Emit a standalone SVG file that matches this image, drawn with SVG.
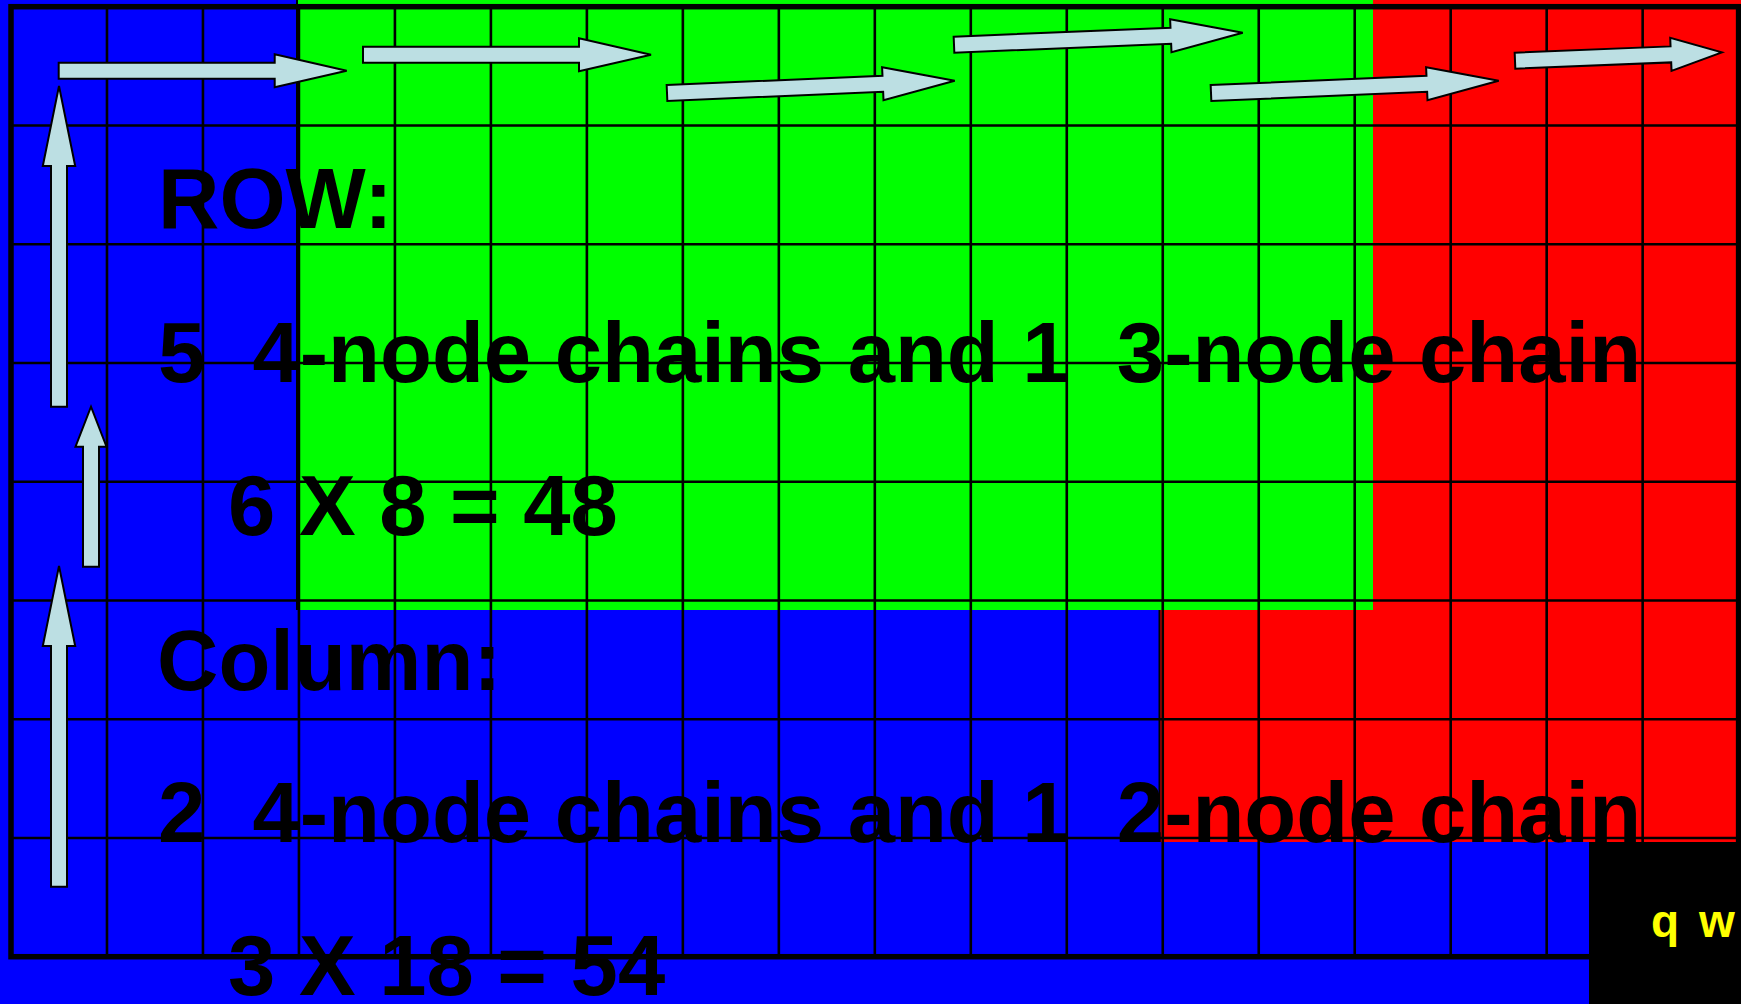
<svg xmlns="http://www.w3.org/2000/svg" width="1741" height="1004" viewBox="0 0 1741 1004">
<style>
.grid{fill:none;stroke:#000;stroke-width:2.6}
.border{fill:none;stroke:#000;stroke-width:5.5}
.arr{fill:#BCDFE3;stroke:#000;stroke-width:2;stroke-linejoin:miter}
.t{font-family:"Liberation Sans",Arial,sans-serif;font-weight:bold;font-size:85px;fill:#000;white-space:pre}
.y{font-family:"Liberation Sans",Arial,sans-serif;font-weight:bold;font-size:46px;fill:#FFFF00;letter-spacing:3.5px}
</style>
<g id="background">
<rect x="0" y="0" width="1741" height="1004" fill="#0000FF"/>
<rect x="298" y="0" width="1075" height="610" fill="#00FF00"/>
<rect x="1373" y="0" width="368" height="842" fill="#FF0000"/>
<rect x="1159" y="610" width="214" height="232" fill="#FF0000"/>
<rect x="1589" y="842" width="152" height="162" fill="#000000"/>
<line x1="297" y1="0" x2="297" y2="610" stroke="#000" stroke-width="2"/>
<line x1="1159.5" y1="610" x2="1159.5" y2="842" stroke="#000" stroke-width="2"/>
</g>
<g id="grid">
<path class="grid" d="M106.98 6.7V956.7M202.96 6.7V956.7M298.94 6.7V956.7M394.92 6.7V956.7M490.9 6.7V956.7M586.88 6.7V956.7M682.86 6.7V956.7M778.84 6.7V956.7M874.82 6.7V956.7M970.8 6.7V956.7M1066.78 6.7V956.7M1162.76 6.7V956.7M1258.74 6.7V956.7M1354.72 6.7V956.7M1450.7 6.7V956.7M1546.68 6.7V956.7M1642.66 6.7V956.7"/>
<path class="grid" d="M11 125.45H1738.6M11 244.2H1738.6M11 362.95H1738.6M11 481.7H1738.6M11 600.45H1738.6M11 719.2H1738.6M11 837.95H1738.6"/>
<rect class="border" x="11" y="6.7" width="1727.6" height="950"/>
</g>
<g id="connectors">
<polygon class="arr" transform="translate(58.7 70.7)" points="0,-8 216,-8 216,-16.5 288,0 216,16.5 216,8 0,8"/>
<polygon class="arr" transform="translate(363 54.7)" points="0,-8 216,-8 216,-16.5 288,0 216,16.5 216,8 0,8"/>
<polygon class="arr" transform="translate(667 93) rotate(-2.44)" points="0,-8 216,-8 216,-16.5 288,0 216,16.5 216,8 0,8"/>
<polygon class="arr" transform="translate(954 44.7) rotate(-2.38)" points="0,-8 217,-8 217,-16.5 289,0 217,16.5 217,8 0,8"/>
<polygon class="arr" transform="translate(1211 93) rotate(-2.44)" points="0,-8 216,-8 216,-16.5 288,0 216,16.5 216,8 0,8"/>
<polygon class="arr" transform="translate(1515 60.7) rotate(-2.32)" points="0,-8 156,-8 156,-16.5 207,0 156,16.5 156,8 0,8"/>
<polygon class="arr" transform="translate(59 406.7) rotate(-90)" points="0,-8 240.7,-8 240.7,-16.2 320.7,0 240.7,16.2 240.7,8 0,8"/>
<polygon class="arr" transform="translate(91 566.7) rotate(-90)" points="0,-8 120,-8 120,-15.5 160,0 120,15.5 120,8 0,8"/>
<polygon class="arr" transform="translate(59 886.7) rotate(-90)" points="0,-8 240.7,-8 240.7,-16.2 320.7,0 240.7,16.2 240.7,8 0,8"/>
</g>
<g id="labels">
<text class="t" x="158" y="228">ROW:</text>
<text class="t" x="158" y="382">5  4-node chains and 1  3-node chain</text>
<text class="t" x="228" y="535">6 X 8 = 48</text>
<text class="t" x="157" y="690">Column:</text>
<text class="t" x="158" y="842">2  4-node chains and 1  2-node chain</text>
<text class="t" x="228" y="995">3 X 18 = 54</text>
<text class="y" x="1651" y="937">q w</text>
</g>
</svg>
